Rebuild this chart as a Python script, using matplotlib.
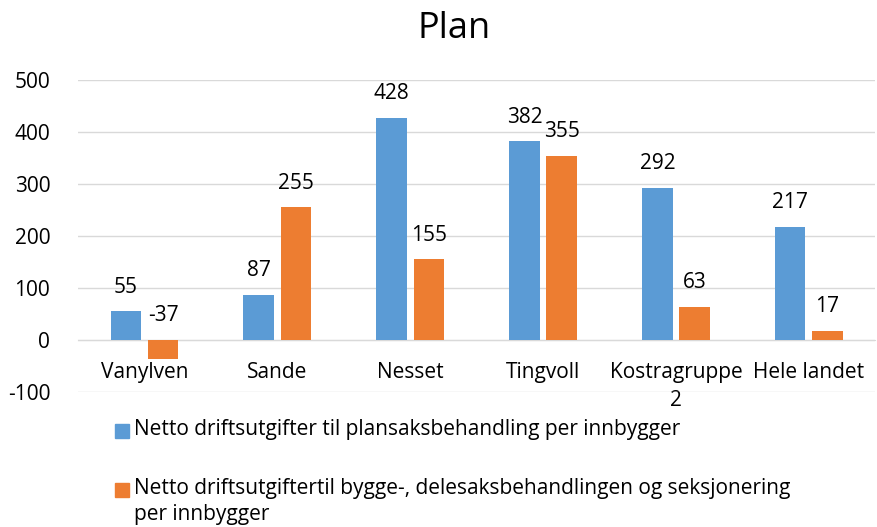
import numpy as np
import matplotlib.pyplot as plt
from matplotlib.patches import Rectangle

plt.rcParams['font.family'] = ['Open Sans', 'DejaVu Sans']
plt.rcParams['axes.unicode_minus'] = False

categories = ['Vanylven', 'Sande', 'Nesset', 'Tingvoll', 'Kostragruppe\n2', 'Hele landet']
plan = [55, 87, 428, 382, 292, 217]
bygg = [-37, 255, 155, 355, 63, 17]
label_plan = 'Netto driftsutgifter til plansaksbehandling per innbygger'
label_bygg = 'Netto driftsutgiftertil bygge-, delesaksbehandlingen og seksjonering\nper innbygger'

blue = '#5B9BD5'
orange = '#ED7D31'
fs = 15

fig = plt.figure(figsize=(8.77, 5.27), dpi=100)
ax = fig.add_axes([0.089, 0.256, 0.909, 0.592])

x = np.arange(len(categories))
w = 0.23
off = 0.14
b1 = ax.bar(x - off, plan, w, color=blue, zorder=3)
b2 = ax.bar(x + off, bygg, w, color=orange, zorder=3)

for bars, vals in [(b1, plan), (b2, bygg)]:
    for r, v in zip(bars, vals):
        ax.annotate(str(v), (r.get_x() + r.get_width() / 2, max(v, 0)),
                    xytext=(0, 10), textcoords='offset points',
                    ha='center', va='bottom', fontsize=fs, color='#000000')

ax.set_ylim(-100, 500)
ax.set_xlim(-0.5, len(categories) - 0.5)
ax.set_yticks(range(-100, 501, 100))
ax.yaxis.grid(True, color='#d9d9d9', linewidth=1, zorder=0)
for s in ['top', 'right', 'left']:
    ax.spines[s].set_visible(False)
ax.spines['bottom'].set_position(('data', 0))
ax.spines['bottom'].set_color('#d9d9d9')
ax.set_xticks(x)
ax.set_xticklabels(categories, fontsize=fs, va='top', linespacing=1.4)
ax.tick_params(axis='x', length=0, pad=16)
ax.tick_params(axis='y', length=0, pad=20, labelsize=fs)

fig.text(0.518, 0.945, 'Plan', ha='center', va='center', fontsize=26)

# legend, drawn by hand so the orange square sits on the first text line
W, H = fig.get_size_inches() * fig.dpi
for col, lab, ymid in [(blue, label_plan, 431), (orange, label_bygg, 490)]:
    fig.add_artist(Rectangle((115 / W, 1 - (ymid + 7) / H), 14 / W, 14 / H,
                             transform=fig.transFigure, color=col))
    fig.text(134 / W, 1 - (ymid - 12) / H, lab, fontsize=fs, ha='left',
             va='top', linespacing=1.3)

fig.savefig('out.png', dpi=100)
